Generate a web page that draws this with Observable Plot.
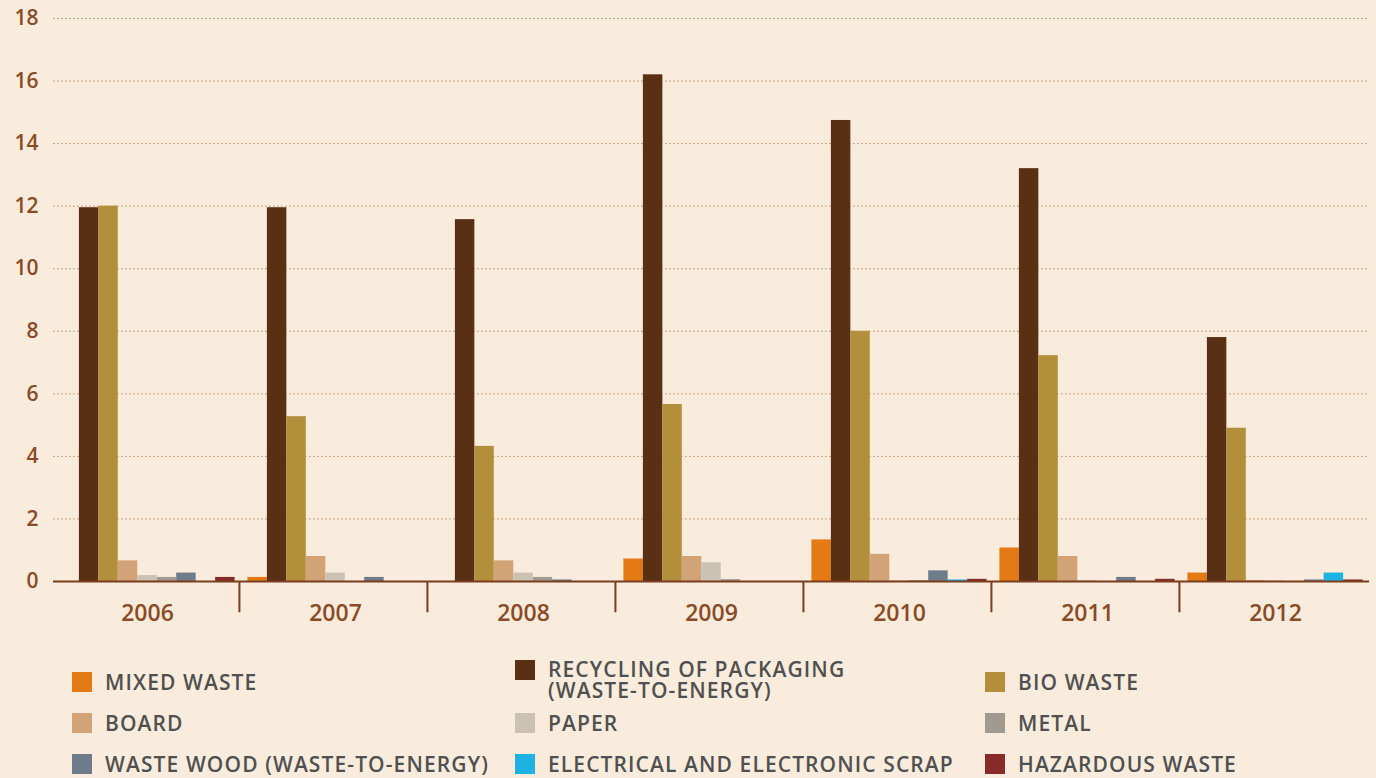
<!DOCTYPE html>
<html>
<head>
<meta charset="utf-8">
<script src="https://cdn.jsdelivr.net/npm/d3@7"></script>
<script src="https://cdn.jsdelivr.net/npm/@observablehq/plot@0.6"></script>
<style>
  html, body { margin: 0; padding: 0; background: #f9ecdc; width: 1376px; height: 778px; overflow: hidden; }
  #chart svg { display: block; }
  #legend { display: grid; grid-template-columns: 443px 470px 1fr; grid-auto-rows: 41px; padding: 21px 0 0 72px;
    font-family: "Open Sans", sans-serif; font-weight: 600; font-size: 21px; letter-spacing: 1.1px; color: #505050; }
  .item { display: flex; align-items: center; }
  .item.multi { align-items: flex-start; line-height: 21px; margin-top: -2px; }
  .sw { width: 20px; height: 20px; margin-right: 13px; flex: none; }
  .item.multi .sw { margin-top: 1px; }
  .lab { white-space: pre-line; }
</style>
</head>
<body>
<div id="chart"></div>
<div id="legend"></div>
<script>
const years = ["2006", "2007", "2008", "2009", "2010", "2011", "2012"];
const categories = ["MIXED WASTE", "RECYCLING OF PACKAGING (WASTE-TO-ENERGY)", "BIO WASTE", "BOARD", "PAPER", "METAL", "WASTE WOOD (WASTE-TO-ENERGY)", "ELECTRICAL AND ELECTRONIC SCRAP", "HAZARDOUS WASTE"];
const legendLabels = ["MIXED WASTE", "RECYCLING OF PACKAGING\n(WASTE-TO-ENERGY)", "BIO WASTE", "BOARD", "PAPER", "METAL", "WASTE WOOD (WASTE-TO-ENERGY)", "ELECTRICAL AND ELECTRONIC SCRAP", "HAZARDOUS WASTE"];
const colors = ["#e47a14", "#5a3015", "#b38f3c", "#d2a377", "#cbc2b2", "#a19a90", "#6e7b8b", "#1cb3e3", "#872a28"];

const mixedWaste      = [0,     0.13,  0,     0.72,  1.33,  1.07,  0.27];
const recycling       = [11.95, 11.95, 11.57, 16.2,  14.74, 13.2,  7.8];
const bioWaste        = [12.0,  5.27,  4.32,  5.66,  8.0,   7.22,  4.9];
const board           = [0.66,  0.8,   0.66,  0.8,   0.87,  0.8,   0.03];
const paper           = [0.19,  0.27,  0.27,  0.6,   0.02,  0.03,  0.02];
const metal           = [0.13,  0,     0.13,  0.06,  0.03,  0,     0];
const wasteWood       = [0.27,  0.13,  0.05,  0,     0.34,  0.13,  0.05];
const electrical      = [0,     0,     0,     0,     0.05,  0,     0.27];
const hazardous       = [0.13,  0,     0,     0,     0.07,  0.07,  0.05];
const yTicks = [0, 2, 4, 6, 8, 10, 12, 14, 16, 18];

const series = [mixedWaste, recycling, bioWaste, board, paper, metal, wasteWood, electrical, hazardous];
const data = [];
years.forEach((yr, i) => categories.forEach((c, j) => data.push({year: yr, category: c, value: series[j][i]})));

const W = 1376, H = 640, mL = 50, mR = 4, mT = 18, mB = 59;
const padOuter = 0.33;
const step = ((W - mL - mR) / years.length) / (categories.length + 2 * padOuter);
const divDx = -(padOuter * step + step / 2);

const brown = "#8a4a26";
const chart = Plot.plot({
  width: W, height: H,
  marginLeft: mL, marginRight: mR, marginTop: mT, marginBottom: mB,
  style: {background: "transparent", fontFamily: "'Open Sans', sans-serif", overflow: "visible"},
  fx: {domain: years, padding: 0, label: null},
  x: {domain: categories, paddingInner: 0, paddingOuter: padOuter, round: false, axis: null},
  y: {domain: [0, 18], label: null},
  color: {domain: categories, range: colors},
  marks: [
    Plot.gridY(yTicks.filter(d => d > 0), {stroke: "#b98a5e", strokeOpacity: 1, strokeWidth: 1, strokeDasharray: "1.5 2.5"}),
    Plot.barY(data, {fx: "year", x: "category", y: "value", fill: "category"}),
    Plot.ruleY([0], {stroke: "#7a3d1f", strokeWidth: 2}),
    Plot.ruleX(years.slice(1), {fx: d => d, x: () => categories[0], y1: 0, y2: -1, dx: divDx - 2, stroke: "#7a3d1f", strokeWidth: 2}),
    Plot.axisY(yTicks, {tickSize: 0, tickPadding: 15, fontSize: 21, fontWeight: 600, fill: brown, label: null}),
    Plot.axisFx({anchor: "bottom", tickSize: 0, tickPadding: 23, fontSize: 23, fontWeight: 600, fill: brown, label: null})
  ]
});
document.getElementById("chart").appendChild(chart);

const legend = document.getElementById("legend");
categories.forEach((c, i) => {
  const item = document.createElement("div");
  item.className = "item" + (legendLabels[i].includes("\n") ? " multi" : "");
  const sw = document.createElement("div");
  sw.className = "sw";
  sw.style.background = colors[i];
  const lab = document.createElement("div");
  lab.className = "lab";
  lab.textContent = legendLabels[i];
  item.appendChild(sw); item.appendChild(lab);
  legend.appendChild(item);
});
</script>
</body>
</html>
